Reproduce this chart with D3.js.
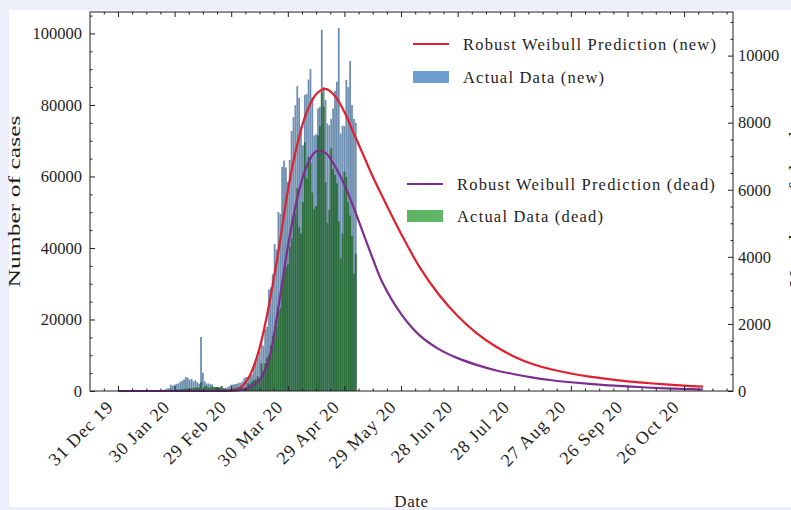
<!DOCTYPE html>
<html>
<head>
<meta charset="utf-8">
<script src="https://cdn.jsdelivr.net/npm/d3@7"></script>
<style>
  body { margin: 0; background: #eceefa; }
  svg { display: block; }
  text { font-family: "Liberation Serif", "Times New Roman", serif; fill: #1e1e1e; }
</style>
</head>
<body>
<svg id="chart" width="791" height="510"></svg>
<script>
const parseDay = d3.utcParse("%Y-%m-%d");
const parseTime = d3.utcParse("%Y-%m-%dT%H:%M");

// daily reported values, first entry is 31 Dec 19, last is 5 May 20
const firstDay = "2019-12-31";
const newCases = [
    27,
    0, 0, 17, 0, 15, 0, 0, 0, 0, 0,
    0, 0, 1, 0, 1, 1, 4, 17, 136, 20,
    150, 140, 100, 260, 460, 690, 780, 1780, 1480, 1760, 2000,
    2110, 2600, 2840, 3240, 3900, 3720, 3160, 3410, 2680, 3000, 2490, 2030, 15140, 5130, 2690,
    2080, 2110, 1920, 1810, 550, 1020, 1090, 1070, 580, 840, 830, 1030, 1360, 1760,
    1810, 1920, 1970, 2340, 2300, 2720, 3740, 3880, 3890, 4440, 4670, 6970, 8260, 9740, 11060,
    13910, 12700, 17260, 17960, 28390, 28980, 32660, 41150, 39580, 50110, 49550, 62660, 64460,
    62510, 58500, 64630,
    72740, 76570, 79940, 85270, 81980, 73830, 68720, 82840, 83020, 87100, 90030, 82180, 71480,
    71780, 79040, 79470, 101000, 85010, 81430, 74830, 74310, 76130, 79010, 84000, 86500, 101500,
    72000, 74210, 74090, 87020,
    85000, 92300, 80000, 76100, 75000
];
const deaths = [
    0,
    0, 0, 0, 0, 0, 0, 0, 0, 0, 0,
    1, 0, 0, 0, 0, 1, 0, 0, 1, 1,
    3, 0, 9, 8, 16, 14, 26, 49, 2, 38, 42,
    46, 45, 57, 64, 66, 72, 73, 86, 89, 97, 108, 97, 254, 13, 143,
    143, 105, 98, 139, 115, 118, 109, 97, 150, 71, 64, 37, 58, 64,
    58, 70, 73, 83, 92, 99, 99, 103, 228, 199, 274, 324, 347, 437, 366,
    822, 608, 826, 999, 1059, 1356, 1647, 1721, 1926, 2372, 2463, 3100, 3600,
    3700, 3800, 4300,
    4545, 5168, 5294, 6046, 4880, 4695, 5630, 7415, 6337, 6983, 6820, 5916, 5418,
    5519, 7616, 7897, 8900, 8486, 6226, 5002, 5410, 7237, 6626, 6447, 6190, 5067,
    3954, 4700, 6546, 6383,
    5640, 5231, 4628, 3500, 4100
];

// robust weibull fits, sampled
const predDates = [
    "2019-12-31", "2020-02-09", "2020-02-19", "2020-02-24", "2020-02-29", "2020-03-05",
    "2020-03-10", "2020-03-15", "2020-03-20", "2020-03-25", "2020-03-30", "2020-04-04",
    "2020-04-09", "2020-04-14", "2020-04-19", "2020-04-24", "2020-04-29", "2020-05-04",
    "2020-05-09", "2020-05-14", "2020-05-19", "2020-05-29", "2020-06-08", "2020-06-18",
    "2020-06-28", "2020-07-08", "2020-07-18", "2020-07-28", "2020-08-07", "2020-08-17",
    "2020-08-27", "2020-09-06", "2020-09-16", "2020-09-26", "2020-10-06", "2020-10-16",
    "2020-10-26", "2020-11-05"
];
const predNew = [
    0, 0, 20, 80, 250, 1000, 4500, 12000, 24000, 39000, 56000, 69000,
    78000, 83000, 84500, 82500, 78000, 72000, 66000, 60000, 54500, 44000, 34500, 27000,
    21000, 16200, 12500, 9600, 7500, 6000, 4900, 4000, 3300, 2700, 2250, 1850,
    1500, 1200
];
const predDead = [
    0, 0, 0, 2, 8, 30, 110, 330, 950, 2500, 4300, 5750,
    6700, 7150, 7100, 6700, 6150, 5450, 4700, 3950, 3250, 2300, 1650, 1250,
    980, 780, 620, 500, 400, 320, 260, 210, 170, 135, 105, 80,
    60, 45
];

const xTickDates = ["2019-12-31", "2020-01-30", "2020-02-29", "2020-03-30", "2020-04-29", "2020-05-29",
    "2020-06-28", "2020-07-28", "2020-08-27", "2020-09-26", "2020-10-26"];
const xTickLabels = ["31 Dec 19", "30 Jan 20", "29 Feb 20", "30 Mar 20", "29 Apr 20", "29 May 20",
    "28 Jun 20", "28 Jul 20", "27 Aug 20", "26 Sep 20", "26 Oct 20"];
const casesTicks = [0, 20000, 40000, 60000, 80000, 100000];
const deathTicks = [0, 2000, 4000, 6000, 8000, 10000];

const colorNew = "#e0202e";
const colorDead = "#7d2d8f";
const colorBarNew = "#6f8fb0";
const colorBarDead = "#2d6e3d";

const width = 791, height = 510;
const plot = { left: 90, right: 733, top: 12, bottom: 391 };
const fontSize = 16.5;

const svg = d3.select("#chart");

// page + figure background
svg.append("rect").attr("width", width).attr("height", height).attr("fill", "#eceefa");
svg.append("rect").attr("x", 9).attr("y", 10).attr("width", width - 9).attr("height", 497).attr("fill", "#ffffff");

// scales
const x = d3.scaleUtc()
    .domain([parseTime("2019-12-16T04:00"), parseTime("2020-11-20T22:00")])
    .range([plot.left, plot.right]);
const yCases = d3.scaleLinear().domain([0, 106000]).range([plot.bottom, plot.top]);
const yDeaths = d3.scaleLinear().domain([0, 11300]).range([plot.bottom, plot.top]);

const start = parseDay(firstDay);
const newRows = newCases.map((v, i) => ({ date: d3.utcDay.offset(start, i), value: v }));
const deadRows = deaths.map((v, i) => ({ date: d3.utcDay.offset(start, i), value: v }));
const predRows = predDates.map((d, i) => ({ date: parseDay(d), cases: predNew[i], dead: predDead[i] }));

const barW = (x(d3.utcDay.offset(start, 1)) - x(start)) * 0.95;
const smooth = d3.curveCatmullRom.alpha(0.5);

const g = svg.append("g");

// ax1: new cases
g.append("g")
    .selectAll("rect")
    .data(newRows)
    .join("rect")
    .attr("x", d => x(d.date) - barW / 2)
    .attr("width", barW)
    .attr("y", d => yCases(d.value))
    .attr("height", d => yCases(0) - yCases(d.value))
    .attr("fill", colorBarNew);

g.append("path")
    .datum(predRows)
    .attr("fill", "none")
    .attr("stroke", colorNew)
    .attr("stroke-width", 2.2)
    .attr("d", d3.line().x(d => x(d.date)).y(d => yCases(d.cases)).curve(smooth));

// ax2: deaths, drawn on top
g.append("g")
    .selectAll("rect")
    .data(deadRows)
    .join("rect")
    .attr("x", d => x(d.date) - barW / 2)
    .attr("width", barW)
    .attr("y", d => yDeaths(d.value))
    .attr("height", d => yDeaths(0) - yDeaths(d.value))
    .attr("fill", colorBarDead);

g.append("path")
    .datum(predRows)
    .attr("fill", "none")
    .attr("stroke", colorDead)
    .attr("stroke-width", 2.2)
    .attr("d", d3.line().x(d => x(d.date)).y(d => yDeaths(d.dead)).curve(smooth));

// axes, ticks pointing in
const majorX = xTickDates.map(parseDay);
const minorX = d3.range(-2, 46)
    .filter(k => k % 4 !== 0)
    .map(k => new Date(start.getTime() + k * 7.5 * 864e5))
    .filter(d => d >= x.domain()[0] && d <= x.domain()[1]);

function styleAxis(sel) {
    sel.select(".domain").remove();
    sel.selectAll("line").attr("stroke", "#1e1e1e").attr("stroke-width", 1);
    sel.selectAll("text")
        .style("font-family", '"Liberation Serif", serif')
        .style("font-size", fontSize + "px")
        .attr("fill", "#1e1e1e");
}

const xAxis = svg.append("g")
    .attr("transform", `translate(0,${plot.bottom})`)
    .call(d3.axisBottom(x).tickValues(majorX).tickSizeInner(-5).tickSizeOuter(0).tickPadding(0)
        .tickFormat((d, i) => xTickLabels[i]))
    .call(styleAxis);
xAxis.selectAll("text")
    .attr("y", 0)
    .attr("dy", 0)
    .attr("text-anchor", "end")
    .attr("transform", "translate(-4,17) rotate(-45)")
    .style("font-size", "18px")
    .style("letter-spacing", "1px");

svg.append("g")
    .attr("transform", `translate(0,${plot.bottom})`)
    .call(d3.axisBottom(x).tickValues(minorX).tickSizeInner(-2.5).tickSizeOuter(0).tickFormat(""))
    .call(styleAxis);
svg.append("g")
    .attr("transform", `translate(0,${plot.top})`)
    .call(d3.axisTop(x).tickValues(majorX).tickSizeInner(-5).tickSizeOuter(0).tickFormat(""))
    .call(styleAxis);
svg.append("g")
    .attr("transform", `translate(0,${plot.top})`)
    .call(d3.axisTop(x).tickValues(minorX).tickSizeInner(-2.5).tickSizeOuter(0).tickFormat(""))
    .call(styleAxis);

svg.append("g")
    .attr("transform", `translate(${plot.left},0)`)
    .call(d3.axisLeft(yCases).tickValues(casesTicks).tickSizeInner(-5).tickSizeOuter(0).tickPadding(8)
        .tickFormat(d3.format("d")))
    .call(styleAxis);
svg.append("g")
    .attr("transform", `translate(${plot.left},0)`)
    .call(d3.axisLeft(yCases).tickValues(d3.range(5000, 106000, 5000).filter(v => v % 20000 !== 0))
        .tickSizeInner(-2.5).tickSizeOuter(0).tickFormat(""))
    .call(styleAxis);

svg.append("g")
    .attr("transform", `translate(${plot.right},0)`)
    .call(d3.axisRight(yDeaths).tickValues(deathTicks).tickSizeInner(-5).tickSizeOuter(0).tickPadding(5)
        .tickFormat(d3.format("d")))
    .call(styleAxis);
svg.append("g")
    .attr("transform", `translate(${plot.right},0)`)
    .call(d3.axisRight(yDeaths).tickValues(d3.range(500, 11300, 500).filter(v => v % 2000 !== 0))
        .tickSizeInner(-2.5).tickSizeOuter(0).tickFormat(""))
    .call(styleAxis);

// frame
svg.append("rect")
    .attr("x", plot.left).attr("y", plot.top)
    .attr("width", plot.right - plot.left).attr("height", plot.bottom - plot.top)
    .attr("fill", "none").attr("stroke", "#1e1e1e").attr("stroke-width", 1);

// axis labels (the right one runs off the page edge, as in the source)
svg.append("text")
    .attr("transform", `translate(20,${(plot.top + plot.bottom) / 2}) rotate(-90)`)
    .attr("text-anchor", "middle")
    .attr("textLength", 172)
    .attr("lengthAdjust", "spacingAndGlyphs")
    .style("font-size", "17px")
    .attr("fill", "#333")
    .text("Number of cases");
svg.append("text")
    .attr("transform", `translate(801,${(plot.top + plot.bottom) / 2}) rotate(-90)`)
    .attr("text-anchor", "middle")
    .attr("textLength", 172)
    .attr("lengthAdjust", "spacingAndGlyphs")
    .style("font-size", "17px")
    .text("Number of deaths");
svg.append("text")
    .attr("x", (plot.left + plot.right) / 2)
    .attr("y", 507)
    .attr("text-anchor", "middle")
    .style("font-size", "17px")
    .style("letter-spacing", "0.6px")
    .text("Date");

// legends
const legend = svg.append("g").style("font-size", fontSize + "px").style("letter-spacing", "1.2px");
const legendItems = [
    { kind: "line", color: colorNew, x: 413, y: 44, label: "Robust Weibull Prediction (new)", tx: 463 },
    { kind: "patch", color: "#6f9ed3", x: 413, y: 77, label: "Actual Data (new)", tx: 463 },
    { kind: "line", color: colorDead, x: 407, y: 184, label: "Robust Weibull Prediction (dead)", tx: 457 },
    { kind: "patch", color: "#5fb466", x: 407, y: 216, label: "Actual Data (dead)", tx: 457 }
];
legendItems.forEach(it => {
    if (it.kind === "line") {
        legend.append("line")
            .attr("x1", it.x).attr("x2", it.x + 36)
            .attr("y1", it.y).attr("y2", it.y)
            .attr("stroke", it.color).attr("stroke-width", 2);
    } else {
        legend.append("rect")
            .attr("x", it.x).attr("y", it.y - 6)
            .attr("width", 36).attr("height", 12)
            .attr("fill", it.color);
    }
    legend.append("text")
        .attr("x", it.tx).attr("y", it.y + 5.5)
        .text(it.label);
});
</script>
</body>
</html>
